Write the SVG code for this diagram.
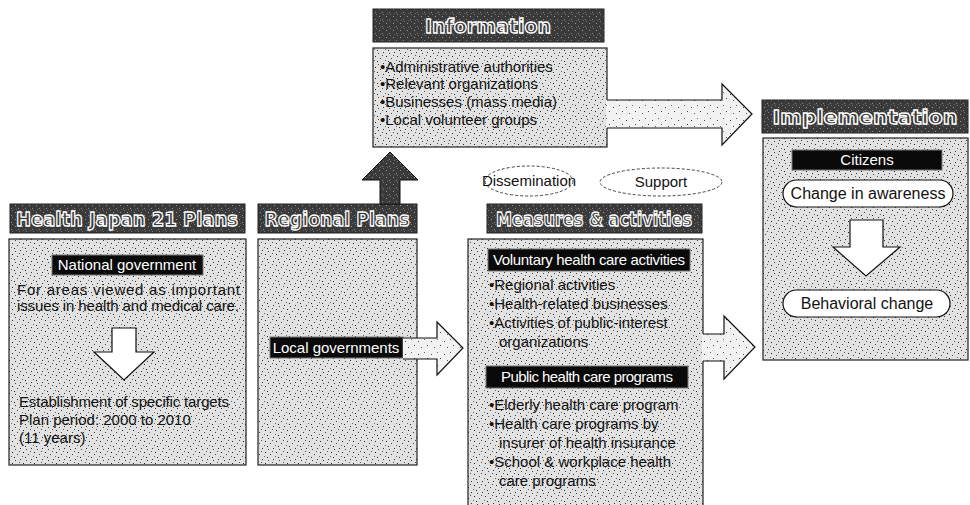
<svg xmlns="http://www.w3.org/2000/svg" width="970" height="505" viewBox="0 0 970 505">
<defs>
<pattern id="spk" width="11" height="11" patternUnits="userSpaceOnUse">
<rect width="11" height="11" fill="#e2e2e2"/>
<rect x="1" y="1" width="1" height="1" fill="#222"/>
<rect x="6" y="3" width="1" height="1" fill="#444"/>
<rect x="3" y="6" width="1" height="1" fill="#222"/>
<rect x="9" y="8" width="1" height="1" fill="#333"/>
<rect x="8" y="0" width="1" height="1" fill="#555"/>
<rect x="4" y="9" width="1" height="1" fill="#444"/>
<rect x="0" y="5" width="1" height="1" fill="#666"/>
</pattern>
<pattern id="spk2" width="13" height="13" patternUnits="userSpaceOnUse">
<rect width="13" height="13" fill="#f2f2f2"/>
<rect x="2" y="3" width="1" height="1" fill="#444"/>
<rect x="8" y="1" width="1" height="1" fill="#666"/>
<rect x="5" y="9" width="1" height="1" fill="#555"/>
<rect x="11" y="7" width="1" height="1" fill="#444"/>
</pattern>
<pattern id="dk" width="7" height="7" patternUnits="userSpaceOnUse">
<rect width="7" height="7" fill="#3a3a3a"/>
<rect x="1" y="2" width="1" height="1" fill="#9a9a9a"/>
<rect x="4" y="5" width="1" height="1" fill="#888"/>
<rect x="5" y="0" width="1" height="1" fill="#777"/>
<rect x="2" y="6" width="1" height="1" fill="#666"/>
</pattern>
<style>
.hdr{fill:url(#dk);stroke:#222;stroke-width:1}
.htxt{font-family:"DejaVu Sans",sans-serif;font-weight:bold;font-size:19px;fill:#3a3a3a;stroke:#fff;stroke-width:1.3;text-anchor:middle}
.box{fill:url(#spk);stroke:#222;stroke-width:1.2}
.lbl{fill:#0a0a0a;stroke:#777;stroke-width:1}
.ltxt{font-family:"Liberation Sans",sans-serif;font-size:15px;fill:#fff;text-anchor:middle}
.txt{font-family:"Liberation Sans",sans-serif;font-size:15px;fill:#111}
.pill{fill:#fff;stroke:#111;stroke-width:1.2}
.ptxt{font-family:"Liberation Sans",sans-serif;font-size:16px;fill:#111;text-anchor:middle}
.ell{fill:#fff;stroke:#444;stroke-width:1;stroke-dasharray:3 2}
.harrow{fill:url(#spk2);stroke:none}
.hline{fill:none;stroke:#111;stroke-width:1.2}
.warrow{fill:#fff;stroke:#111;stroke-width:1.2}
</style>
</defs>

<g id="information">
<rect class="hdr" x="373" y="9" width="231" height="33"/>
<text class="htxt" x="488" y="33">Information</text>
<rect class="box" x="373" y="48" width="234" height="99"/>
<text class="txt" x="380" y="72">•Administrative authorities</text>
<text class="txt" x="380" y="89">•Relevant organizations</text>
<text class="txt" x="380" y="107">•Businesses (mass media)</text>
<text class="txt" x="380" y="125">•Local volunteer groups</text>
</g>

<g id="health-japan-21">
<rect class="hdr" x="10" y="204" width="235" height="29"/>
<text class="htxt" x="127" y="226" textLength="222" lengthAdjust="spacingAndGlyphs">Health Japan 21 Plans</text>
<rect class="box" x="9" y="239" width="237" height="226"/>
<rect class="lbl" x="52" y="255" width="151" height="20"/>
<text class="ltxt" x="127" y="270">National government</text>
<text class="txt" x="17" y="295" textLength="223">For areas viewed as important</text>
<text class="txt" x="17" y="311" textLength="222">issues in health and medical care.</text>
<path class="warrow" d="M112,328 H136 V352 H154 L124,380 L94,352 H112 Z"/>
<text class="txt" x="19" y="407" textLength="210">Establishment of specific targets</text>
<text class="txt" x="19" y="425">Plan period: 2000 to 2010</text>
<text class="txt" x="19" y="443">(11 years)</text>
</g>

<g id="regional-plans">
<rect class="hdr" x="258" y="204" width="159" height="29"/>
<text class="htxt" x="337" y="226" textLength="145" lengthAdjust="spacingAndGlyphs">Regional Plans</text>
<rect class="box" x="258" y="239" width="159" height="226"/>
<rect class="lbl" x="270" y="337" width="133" height="21"/>
<text class="ltxt" x="336" y="353">Local governments</text>
</g>

<g id="dissemination">
<ellipse class="ell" cx="529" cy="181" rx="44" ry="15"/>
<text class="ptxt" x="529" y="186" style="font-size:15px">Dissemination</text>
</g>

<g id="support">
<ellipse class="ell" cx="661" cy="182" rx="61" ry="14"/>
<text class="ptxt" x="661" y="187" style="font-size:15px">Support</text>
</g>

<g id="measures-activities">
<rect class="hdr" x="487" y="204" width="215" height="29"/>
<text class="htxt" x="594" y="226" textLength="196" lengthAdjust="spacingAndGlyphs">Measures &amp; activities</text>
<rect class="box" x="468" y="239" width="235" height="280"/>
<rect class="lbl" x="488" y="249" width="202" height="22"/>
<text class="ltxt" x="589" y="265" textLength="192">Voluntary health care activities</text>
<text class="txt" x="489" y="290">•Regional activities</text>
<text class="txt" x="489" y="309">•Health-related businesses</text>
<text class="txt" x="489" y="328">•Activities of public-interest</text>
<text class="txt" x="499" y="347">organizations</text>
<rect class="lbl" x="486" y="366" width="202" height="22"/>
<text class="ltxt" x="587" y="382" textLength="172">Public health care programs</text>
<text class="txt" x="489" y="410">•Elderly health care program</text>
<text class="txt" x="489" y="429">•Health care programs by</text>
<text class="txt" x="499" y="448">insurer of health insurance</text>
<text class="txt" x="489" y="467">•School &amp; workplace health</text>
<text class="txt" x="499" y="486">care programs</text>
</g>

<g id="implementation">
<rect class="hdr" x="762" y="100" width="206" height="33"/>
<text class="htxt" x="865" y="124" textLength="185" lengthAdjust="spacingAndGlyphs">Implementation</text>
<rect class="box" x="763" y="138" width="205" height="222"/>
<rect class="lbl" x="792" y="150" width="150" height="20"/>
<text class="ltxt" x="867" y="165">Citizens</text>
<rect class="pill" x="783" y="180" width="170" height="27" rx="13.5"/>
<text class="ptxt" x="868" y="199">Change in awareness</text>
<path class="warrow" d="M850,220 H883 V247 H900 L866,276 L833,247 H850 Z"/>
<rect class="pill" x="783" y="290" width="167" height="27" rx="13.5"/>
<text class="ptxt" x="867" y="309">Behavioral change</text>
</g>

<g id="connectors">
<path d="M380,204 V180 H362 L390,152 L418,180 H400 V204 Z" fill="url(#dk)" stroke="#111" stroke-width="1"/>
<path class="harrow" d="M606,100 H722 V84 L752,114 L722,145 V128 H606 Z"/>
<path class="hline" d="M607,100 H722 V84 L752,114 L722,145 V128 H607"/>
<path class="harrow" d="M403,338 H437 V322 L463,348 L437,375 V359 H403 Z"/>
<path class="hline" d="M403,338 H437 V322 L463,348 L437,375 V359 H403"/>
<path class="harrow" d="M702,334 H724 V316 L755,347 L724,379 V361 H702 Z"/>
<path class="hline" d="M703,334 H724 V316 L755,347 L724,379 V361 H703"/>
</g>
</svg>
